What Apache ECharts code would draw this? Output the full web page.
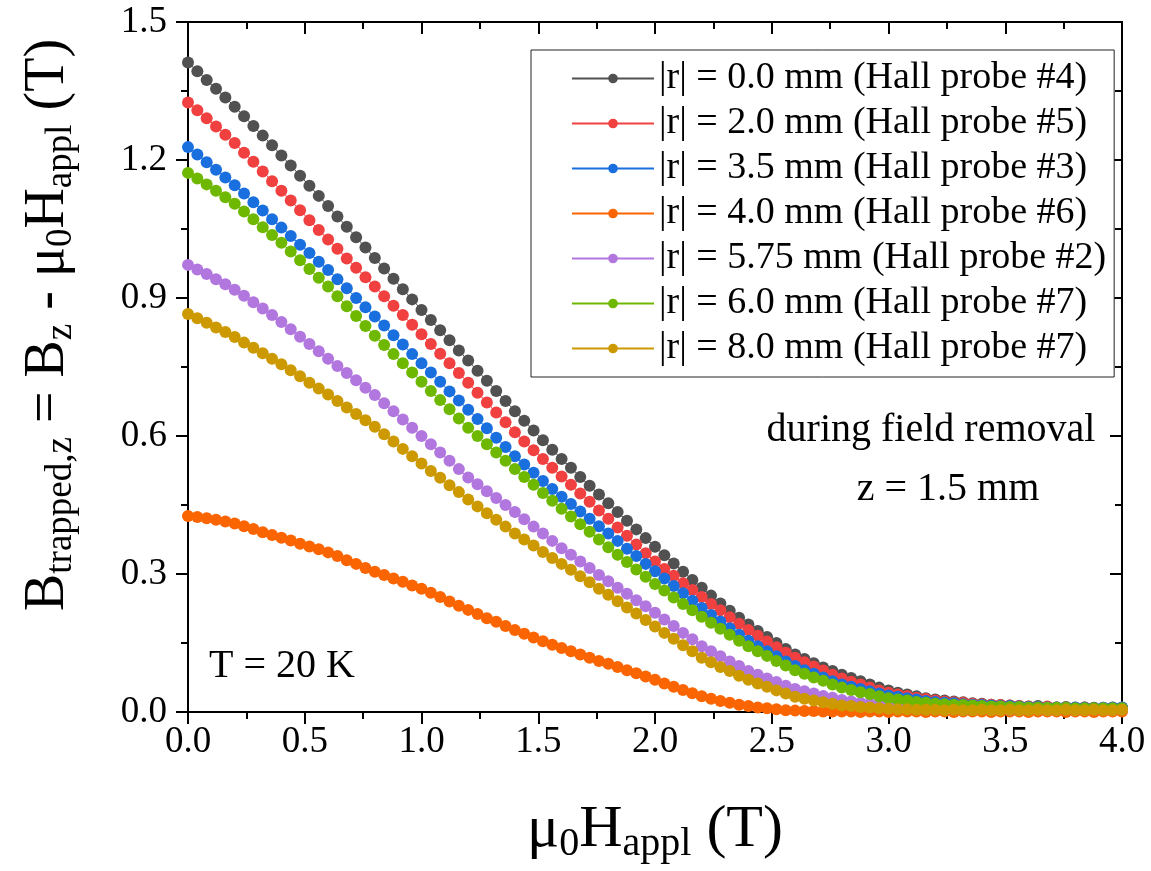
<!DOCTYPE html>
<html>
<head>
<meta charset="utf-8">
<script src="https://cdn.jsdelivr.net/npm/echarts@6/dist/echarts.min.js"></script>
<style>
html,body{margin:0;padding:0;background:#fff;}
#chart{width:1151px;height:871px;}
</style>
</head>
<body>
<div id="chart"></div>
<script>
// Applied field mu0*H_appl (T)
const fieldT = [
0.00,0.04,0.08,0.12,0.16,0.20,0.24,0.28,0.32,0.36,
0.40,0.44,0.48,0.52,0.56,0.60,0.64,0.68,0.72,0.76,
0.80,0.84,0.88,0.92,0.96,1.00,1.04,1.08,1.12,1.16,
1.20,1.24,1.28,1.32,1.36,1.40,1.44,1.48,1.52,1.56,
1.60,1.64,1.68,1.72,1.76,1.80,1.84,1.88,1.92,1.96,
2.00,2.04,2.08,2.12,2.16,2.20,2.24,2.28,2.32,2.36,
2.40,2.44,2.48,2.52,2.56,2.60,2.64,2.68,2.72,2.76,
2.80,2.84,2.88,2.92,2.96,3.00,3.04,3.08,3.12,3.16,
3.20,3.24,3.28,3.32,3.36,3.40,3.44,3.48,3.52,3.56,
3.60,3.64,3.68,3.72,3.76,3.80,3.84,3.88,3.92,3.96,
4.00];

// |r| = 0.0 mm (Hall probe #4)
const r00 = [
1.412,1.393,1.374,1.355,1.336,1.316,1.295,1.274,1.253,1.232,
1.210,1.188,1.166,1.144,1.122,1.100,1.077,1.055,1.032,1.010,
0.987,0.964,0.942,0.919,0.897,0.874,0.852,0.830,0.808,0.786,
0.764,0.742,0.720,0.698,0.676,0.654,0.633,0.612,0.591,0.570,
0.550,0.531,0.511,0.492,0.473,0.454,0.435,0.416,0.397,0.378,
0.359,0.341,0.323,0.305,0.287,0.270,0.253,0.236,0.220,0.205,
0.190,0.176,0.163,0.150,0.137,0.125,0.115,0.106,0.097,0.089,
0.081,0.074,0.067,0.060,0.053,0.047,0.042,0.038,0.034,0.030,
0.027,0.025,0.023,0.021,0.019,0.018,0.016,0.015,0.014,0.013,
0.012,0.013,0.011,0.010,0.011,0.009,0.010,0.009,0.008,0.010,
0.009];

// |r| = 2.0 mm (Hall probe #5)
const r20 = [
1.325,1.308,1.291,1.273,1.255,1.237,1.216,1.196,1.175,1.154,
1.133,1.112,1.091,1.069,1.048,1.027,1.007,0.986,0.966,0.945,
0.925,0.904,0.883,0.863,0.842,0.821,0.800,0.779,0.758,0.737,
0.716,0.694,0.673,0.651,0.630,0.608,0.588,0.569,0.550,0.531,
0.512,0.494,0.475,0.457,0.438,0.420,0.401,0.383,0.364,0.345,
0.327,0.311,0.296,0.280,0.265,0.250,0.235,0.221,0.206,0.192,
0.178,0.166,0.153,0.141,0.129,0.118,0.108,0.099,0.090,0.081,
0.073,0.066,0.060,0.053,0.047,0.042,0.038,0.035,0.031,0.028,
0.025,0.023,0.021,0.020,0.018,0.017,0.016,0.015,0.014,0.013,
0.012,0.011,0.012,0.010,0.010,0.009,0.010,0.008,0.009,0.008,
0.009];

// |r| = 3.5 mm (Hall probe #3)
const r35 = [
1.228,1.212,1.195,1.179,1.162,1.145,1.127,1.108,1.090,1.071,
1.053,1.035,1.016,0.998,0.979,0.961,0.941,0.921,0.900,0.880,
0.860,0.840,0.819,0.799,0.778,0.758,0.738,0.718,0.697,0.677,
0.657,0.637,0.617,0.596,0.576,0.556,0.538,0.520,0.502,0.485,
0.468,0.452,0.436,0.420,0.404,0.388,0.372,0.355,0.339,0.322,
0.306,0.290,0.274,0.258,0.242,0.226,0.211,0.197,0.182,0.168,
0.155,0.143,0.132,0.121,0.110,0.100,0.091,0.083,0.075,0.067,
0.060,0.055,0.050,0.045,0.040,0.036,0.033,0.030,0.027,0.024,
0.022,0.020,0.019,0.017,0.016,0.015,0.014,0.013,0.013,0.012,
0.011,0.011,0.010,0.010,0.009,0.010,0.009,0.008,0.009,0.009,
0.010];

// |r| = 4.0 mm (Hall probe #6)
const r40 = [
0.426,0.424,0.421,0.418,0.414,0.410,0.404,0.398,0.391,0.385,
0.379,0.373,0.366,0.360,0.354,0.347,0.339,0.330,0.322,0.313,
0.305,0.298,0.290,0.283,0.275,0.268,0.259,0.250,0.240,0.231,
0.222,0.213,0.204,0.196,0.187,0.178,0.170,0.162,0.154,0.146,
0.139,0.132,0.125,0.118,0.111,0.105,0.098,0.091,0.084,0.077,
0.070,0.062,0.055,0.048,0.041,0.034,0.029,0.024,0.020,0.016,
0.013,0.010,0.008,0.006,0.004,0.003,0.002,0.002,0.001,0.001,
0.001,0.001,0.000,0.001,0.001,0.000,0.001,0.001,0.001,0.000,
0.001,0.001,0.000,0.001,0.001,0.001,0.000,0.001,0.001,0.001,
0.000,0.001,0.001,0.001,0.000,0.001,0.001,0.000,0.001,0.001,
0.001];

// |r| = 5.75 mm (Hall probe #2)
const r575 = [
0.972,0.962,0.952,0.941,0.930,0.918,0.905,0.891,0.877,0.863,
0.848,0.832,0.816,0.800,0.784,0.768,0.752,0.737,0.721,0.705,
0.689,0.671,0.654,0.636,0.618,0.600,0.582,0.564,0.546,0.528,
0.510,0.495,0.480,0.465,0.450,0.435,0.419,0.403,0.388,0.372,
0.356,0.342,0.327,0.313,0.298,0.284,0.270,0.257,0.243,0.230,
0.216,0.201,0.187,0.172,0.158,0.143,0.132,0.121,0.110,0.100,
0.089,0.081,0.073,0.065,0.057,0.050,0.045,0.040,0.035,0.031,
0.026,0.023,0.020,0.018,0.015,0.013,0.012,0.011,0.010,0.009,
0.008,0.008,0.007,0.007,0.006,0.006,0.006,0.006,0.005,0.005,
0.005,0.006,0.005,0.005,0.006,0.005,0.005,0.006,0.005,0.005,
0.006];

// |r| = 6.0 mm (Hall probe #7)
const r60 = [
1.172,1.160,1.147,1.133,1.119,1.105,1.088,1.071,1.054,1.037,
1.020,1.001,0.982,0.963,0.944,0.925,0.904,0.882,0.861,0.839,
0.818,0.798,0.778,0.758,0.738,0.718,0.698,0.678,0.658,0.638,
0.618,0.600,0.582,0.564,0.546,0.528,0.511,0.494,0.476,0.459,
0.442,0.425,0.408,0.392,0.375,0.358,0.342,0.326,0.310,0.294,
0.278,0.264,0.249,0.235,0.221,0.207,0.194,0.181,0.168,0.155,
0.143,0.132,0.122,0.111,0.101,0.091,0.083,0.075,0.068,0.060,
0.053,0.048,0.043,0.039,0.034,0.030,0.027,0.025,0.022,0.020,
0.018,0.017,0.016,0.015,0.014,0.013,0.012,0.012,0.011,0.011,
0.010,0.010,0.009,0.009,0.009,0.008,0.008,0.008,0.008,0.008,
0.008];

// |r| = 8.0 mm (Hall probe #7)
const r80 = [
0.865,0.856,0.846,0.836,0.826,0.815,0.803,0.792,0.780,0.768,
0.756,0.743,0.730,0.716,0.703,0.690,0.676,0.662,0.648,0.634,
0.620,0.604,0.588,0.572,0.556,0.540,0.524,0.509,0.493,0.478,
0.462,0.447,0.432,0.418,0.403,0.388,0.375,0.362,0.348,0.335,
0.322,0.309,0.295,0.282,0.268,0.255,0.241,0.227,0.214,0.200,
0.186,0.172,0.159,0.145,0.132,0.118,0.108,0.098,0.089,0.079,
0.070,0.062,0.055,0.047,0.040,0.033,0.029,0.025,0.021,0.018,
0.014,0.013,0.011,0.010,0.008,0.007,0.006,0.006,0.005,0.005,
0.005,0.004,0.005,0.004,0.004,0.005,0.004,0.004,0.005,0.004,
0.004,0.005,0.004,0.004,0.005,0.004,0.004,0.005,0.004,0.004,
0.005];

const seriesNames = [
  '|r| = 0.0 mm (Hall probe #4)',
  '|r| = 2.0 mm (Hall probe #5)',
  '|r| = 3.5 mm (Hall probe #3)',
  '|r| = 4.0 mm (Hall probe #6)',
  '|r| = 5.75 mm (Hall probe #2)',
  '|r| = 6.0 mm (Hall probe #7)',
  '|r| = 8.0 mm (Hall probe #7)'
];
const seriesValues = [r00, r20, r35, r40, r575, r60, r80];
const seriesColors = ['#515151', '#F14040', '#1A6FDF', '#FB6501', '#B177DE', '#6FB802', '#CC9900'];

const xTicks = ['0.0','0.5','1.0','1.5','2.0','2.5','3.0','3.5','4.0'];
const yTicks = ['0.0','0.3','0.6','0.9','1.2','1.5'];

const FONT = 'Liberation Serif';

const chart = echarts.init(document.getElementById('chart'), null, {renderer: 'canvas'});

function pairs(ys) {
  return fieldT.map((x, i) => [x, ys[i]]);
}

const axisCommon = {
  axisLine: {show: true, onZero: false, lineStyle: {color: '#000', width: 2}},
  splitLine: {show: false},
  minorSplitLine: {show: false}
};

const option = {
  animation: false,
  backgroundColor: '#fff',
  grid: {left: 188, right: 29, top: 22, bottom: 159, containLabel: false, outerBoundsMode: 'none'},
  legend: {
    orient: 'vertical',
    left: 531,
    top: 50,
    padding: [6, 8, 6, 40],
    itemGap: 0,
    itemWidth: 82,
    itemHeight: 12,
    borderColor: '#222',
    borderWidth: 1,
    backgroundColor: '#fff',
    textStyle: {fontFamily: FONT, fontSize: 38, color: '#000', lineHeight: 45},
    data: seriesNames
  },
  xAxis: [
    Object.assign({
      type: 'value', min: 0, max: 4, interval: 0.5, position: 'bottom',
      axisTick: {show: true, inside: false, length: 12, lineStyle: {color: '#000', width: 2}},
      minorTick: {show: true, splitNumber: 2, length: 7, lineStyle: {color: '#000', width: 2}},
      axisLabel: {
        show: true, margin: 12, color: '#000', fontFamily: FONT, fontSize: 37,
        formatter: function (v) { return xTicks[Math.round(v / 0.5)]; }
      }
    }, axisCommon),
    Object.assign({
      type: 'value', min: 0, max: 4, interval: 0.5, position: 'top',
      axisTick: {show: true, inside: true, length: 12, lineStyle: {color: '#000', width: 2}},
      minorTick: {show: true, splitNumber: 2, length: 7, lineStyle: {color: '#000', width: 2}},
      axisLabel: {show: false}
    }, axisCommon)
  ],
  yAxis: [
    Object.assign({
      type: 'value', min: 0, max: 1.5, interval: 0.3, position: 'left',
      axisTick: {show: true, inside: false, length: 12, lineStyle: {color: '#000', width: 2}},
      minorTick: {show: true, splitNumber: 2, length: 7, lineStyle: {color: '#000', width: 2}},
      axisLabel: {
        show: true, margin: 21, color: '#000', fontFamily: FONT, fontSize: 37,
        formatter: function (v) { return yTicks[Math.round(v / 0.3)]; }
      }
    }, axisCommon),
    Object.assign({
      type: 'value', min: 0, max: 1.5, interval: 0.3, position: 'right',
      axisTick: {show: true, inside: true, length: 12, lineStyle: {color: '#000', width: 2}},
      minorTick: {show: true, splitNumber: 2, length: 7, lineStyle: {color: '#000', width: 2}},
      axisLabel: {show: false}
    }, axisCommon)
  ],
  series: seriesNames.map((name, i) => ({
    name: name,
    type: 'line',
    xAxisIndex: 0,
    yAxisIndex: 0,
    data: pairs(seriesValues[i]),
    symbol: 'circle',
    symbolSize: 12,
    showSymbol: true,
    showAllSymbol: true,
    clip: true,
    color: seriesColors[i],
    itemStyle: {color: seriesColors[i]},
    lineStyle: {color: seriesColors[i], width: 1},
    emphasis: {disabled: true},
    z: 2 + i
  })),
  graphic: [
    {
      type: 'text', x: 48, y: 325, rotation: Math.PI / 2, z: 100,
      style: {
        text: '{m|B}{s|trapped,z}{m| = B}{s|z}{m| - μ}{s|0}{m|H}{s|appl}{m| (T)}',
        align: 'center', verticalAlign: 'middle',
        rich: {
          m: {fontFamily: FONT, fontSize: 56, lineHeight: 64, fill: '#000', color: '#000'},
          s: {fontFamily: FONT, fontSize: 37, lineHeight: 30, verticalAlign: 'bottom', fill: '#000', color: '#000'}
        }
      }
    },
    {
      type: 'text', x: 655, y: 830, z: 100,
      style: {
        text: '{m|μ}{s|0}{m|H}{s|appl}{m| (T)}',
        align: 'center', verticalAlign: 'middle',
        rich: {
          m: {fontFamily: FONT, fontSize: 60, lineHeight: 68, fill: '#000', color: '#000'},
          s: {fontFamily: FONT, fontSize: 40, lineHeight: 32, verticalAlign: 'bottom', fill: '#000', color: '#000'}
        }
      }
    },
    {
      type: 'text', x: 931, y: 430, z: 100,
      style: {text: 'during field removal', font: '40px "Liberation Serif"', fill: '#000', align: 'center', verticalAlign: 'middle'}
    },
    {
      type: 'text', x: 948, y: 489, z: 100,
      style: {text: 'z = 1.5 mm', font: '40px "Liberation Serif"', fill: '#000', align: 'center', verticalAlign: 'middle'}
    },
    {
      type: 'text', x: 282, y: 666, z: 100,
      style: {text: 'T = 20 K', font: '40px "Liberation Serif"', fill: '#000', align: 'center', verticalAlign: 'middle'}
    }
  ]
};

chart.setOption(option);
</script>
</body>
</html>
